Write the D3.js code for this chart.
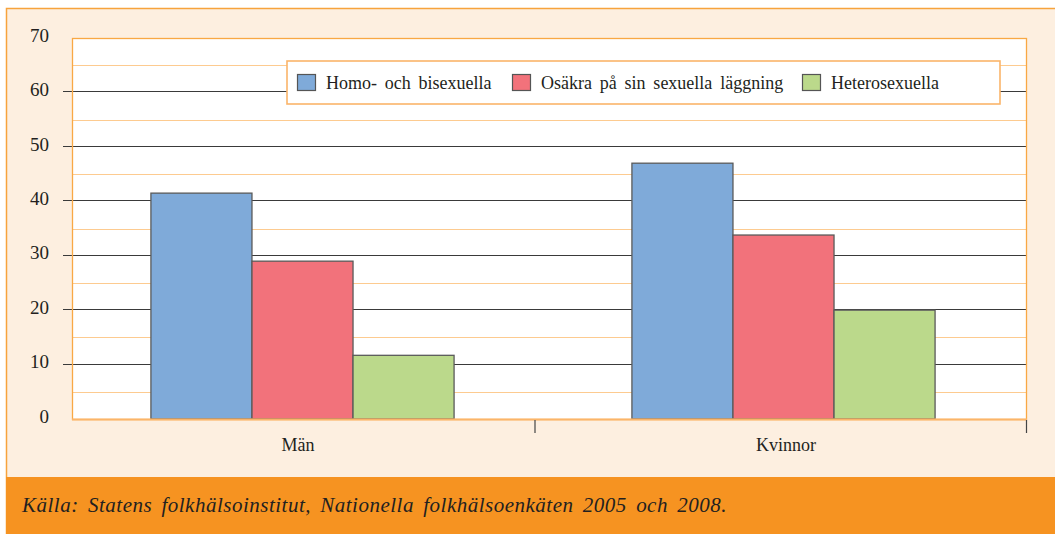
<!DOCTYPE html>
<html>
<head>
<meta charset="utf-8">
<script src="https://cdn.jsdelivr.net/npm/d3@7"></script>
<style>
  body { margin: 0; background: #fff; }
  text { font-family: "Liberation Serif", "DejaVu Serif", serif; fill: #231f20; }
</style>
</head>
<body>
<script>
// data
let categories = ['Män', 'Kvinnor'];
let series = ['Homo- och bisexuella', 'Osäkra på sin sexuella läggning', 'Heterosexuella'];
let valuesMan = [41.5, 29.0, 11.7];
let valuesKvinnor = [47.0, 33.8, 20.0];
let colors = ['#7faad9', '#f2727b', '#bbd98b'];
let yTicks = [0, 10, 20, 30, 40, 50, 60, 70];
let source = 'Källa: Statens folkhälsoinstitut, Nationella folkhälsoenkäten 2005 och 2008.';

let W = 1055, H = 534;
let plotL = 72, plotR = 1026, plotT = 38, plotB = 419;

let svg = d3.select('body').append('svg')
    .attr('width', W)
    .attr('height', H);

// outer frame
svg.append('rect')
    .attr('x', 6.5).attr('y', 8.5)
    .attr('width', W).attr('height', H)
    .attr('fill', '#fdefe0')
    .attr('stroke', '#f7a33c').attr('stroke-width', 1.5);

// footer band
svg.append('rect')
    .attr('x', 6).attr('y', 477)
    .attr('width', W).attr('height', H - 477)
    .attr('fill', '#f69321');
let src = svg.append('text')
    .attr('x', 22).attr('y', 512)
    .attr('font-size', 21)
    .attr('font-style', 'italic')
    .text(source);
// spread the leftover room over letters and word gaps so the line ends where the original does
let rest = 705 - src.node().getComputedTextLength();
let gaps = source.split(' ').length - 1;
src.attr('letter-spacing', Math.max(0, rest * 0.6 / source.length))
   .attr('word-spacing', Math.max(0, rest * 0.4 / gaps));

let y = d3.scaleLinear().domain([0, 70]).range([plotB, plotT]);
let x = d3.scaleBand().domain(categories).range([62, plotR - 2]);
let xs = d3.scaleBand().domain(series).range([0, x.bandwidth()]).paddingOuter(0.88);

// plot area
svg.append('rect')
    .attr('x', plotL).attr('y', plotT)
    .attr('width', plotR - plotL).attr('height', plotB - plotT)
    .attr('fill', '#fff');

// minor orange grid at 5s
let minor = d3.range(5, 70, 10);
svg.selectAll('.minor').data(minor).enter().append('line')
    .attr('x1', plotL).attr('x2', plotR)
    .attr('y1', d => Math.round(y(d)) + 0.5).attr('y2', d => Math.round(y(d)) + 0.5)
    .attr('stroke', '#fdcb90').attr('stroke-width', 1);

// major black grid at 10s, reaching out as ticks on the left
svg.selectAll('.major').data(yTicks.filter(d => d > 0 && d < 70)).enter().append('line')
    .attr('x1', 63).attr('x2', plotR + 1)
    .attr('y1', d => Math.round(y(d)) - 0.5).attr('y2', d => Math.round(y(d)) - 0.5)
    .attr('stroke', '#3a3a3a').attr('stroke-width', 1.2);

// y labels
svg.selectAll('.ylab').data(yTicks).enter().append('text')
    .attr('x', 49).attr('y', d => y(d) - 3)
    .attr('dy', '0.35em')
    .attr('text-anchor', 'end')
    .attr('font-size', 19)
    .text(d => d);

// bars
let rows = [valuesMan, valuesKvinnor];
categories.forEach(function(c, ci) {
    let g = svg.append('g').attr('transform', 'translate(' + x(c) + ',0)');
    g.selectAll('rect').data(rows[ci]).enter().append('rect')
        .attr('x', (d, i) => xs(series[i]))
        .attr('width', xs.bandwidth())
        .attr('y', d => y(d))
        .attr('height', d => plotB - y(d))
        .attr('fill', (d, i) => colors[i])
        .attr('stroke', '#5a5a5a').attr('stroke-width', 1.3);
});

// plot border (orange)
svg.append('rect')
    .attr('x', plotL + 0.5).attr('y', plotT + 0.5)
    .attr('width', plotR - plotL).attr('height', plotB - plotT)
    .attr('fill', 'none')
    .attr('stroke', '#f9a844').attr('stroke-width', 1.3);
svg.append('line')
    .attr('x1', plotL).attr('x2', plotR + 1)
    .attr('y1', plotB + 0.5).attr('y2', plotB + 0.5)
    .attr('stroke', '#fbb56a').attr('stroke-width', 2);

// x ticks between categories and at the right end
let tickXs = [535, plotR + 0.5];
svg.selectAll('.xtick').data(tickXs).enter().append('line')
    .attr('x1', d => d).attr('x2', d => d)
    .attr('y1', plotB + 1).attr('y2', plotB + 14)
    .attr('stroke', '#444').attr('stroke-width', 1.2);

svg.selectAll('.xlab').data(categories).enter().append('text')
    .attr('x', (d, i) => i == 0 ? 298 : 786)
    .attr('y', 451)
    .attr('text-anchor', 'middle')
    .attr('font-size', 18)
    .text(d => d);

// legend
let lg = svg.append('g');
lg.append('rect')
    .attr('x', 287).attr('y', 61)
    .attr('width', 713).attr('height', 43)
    .attr('fill', '#fff')
    .attr('stroke', '#fbb56a').attr('stroke-width', 1.6);
let legX = [297, 512, 802];
series.forEach(function(s, i) {
    lg.append('rect')
        .attr('x', legX[i] + 0.5).attr('y', 74.5)
        .attr('width', 18).attr('height', 16)
        .attr('fill', colors[i])
        .attr('stroke', '#555').attr('stroke-width', 1.2);
    lg.append('text')
        .attr('x', legX[i] + 29).attr('y', 89)
        .attr('font-size', 18)
        .attr('word-spacing', 3.3)
        .text(s);
});
</script>
</body>
</html>
